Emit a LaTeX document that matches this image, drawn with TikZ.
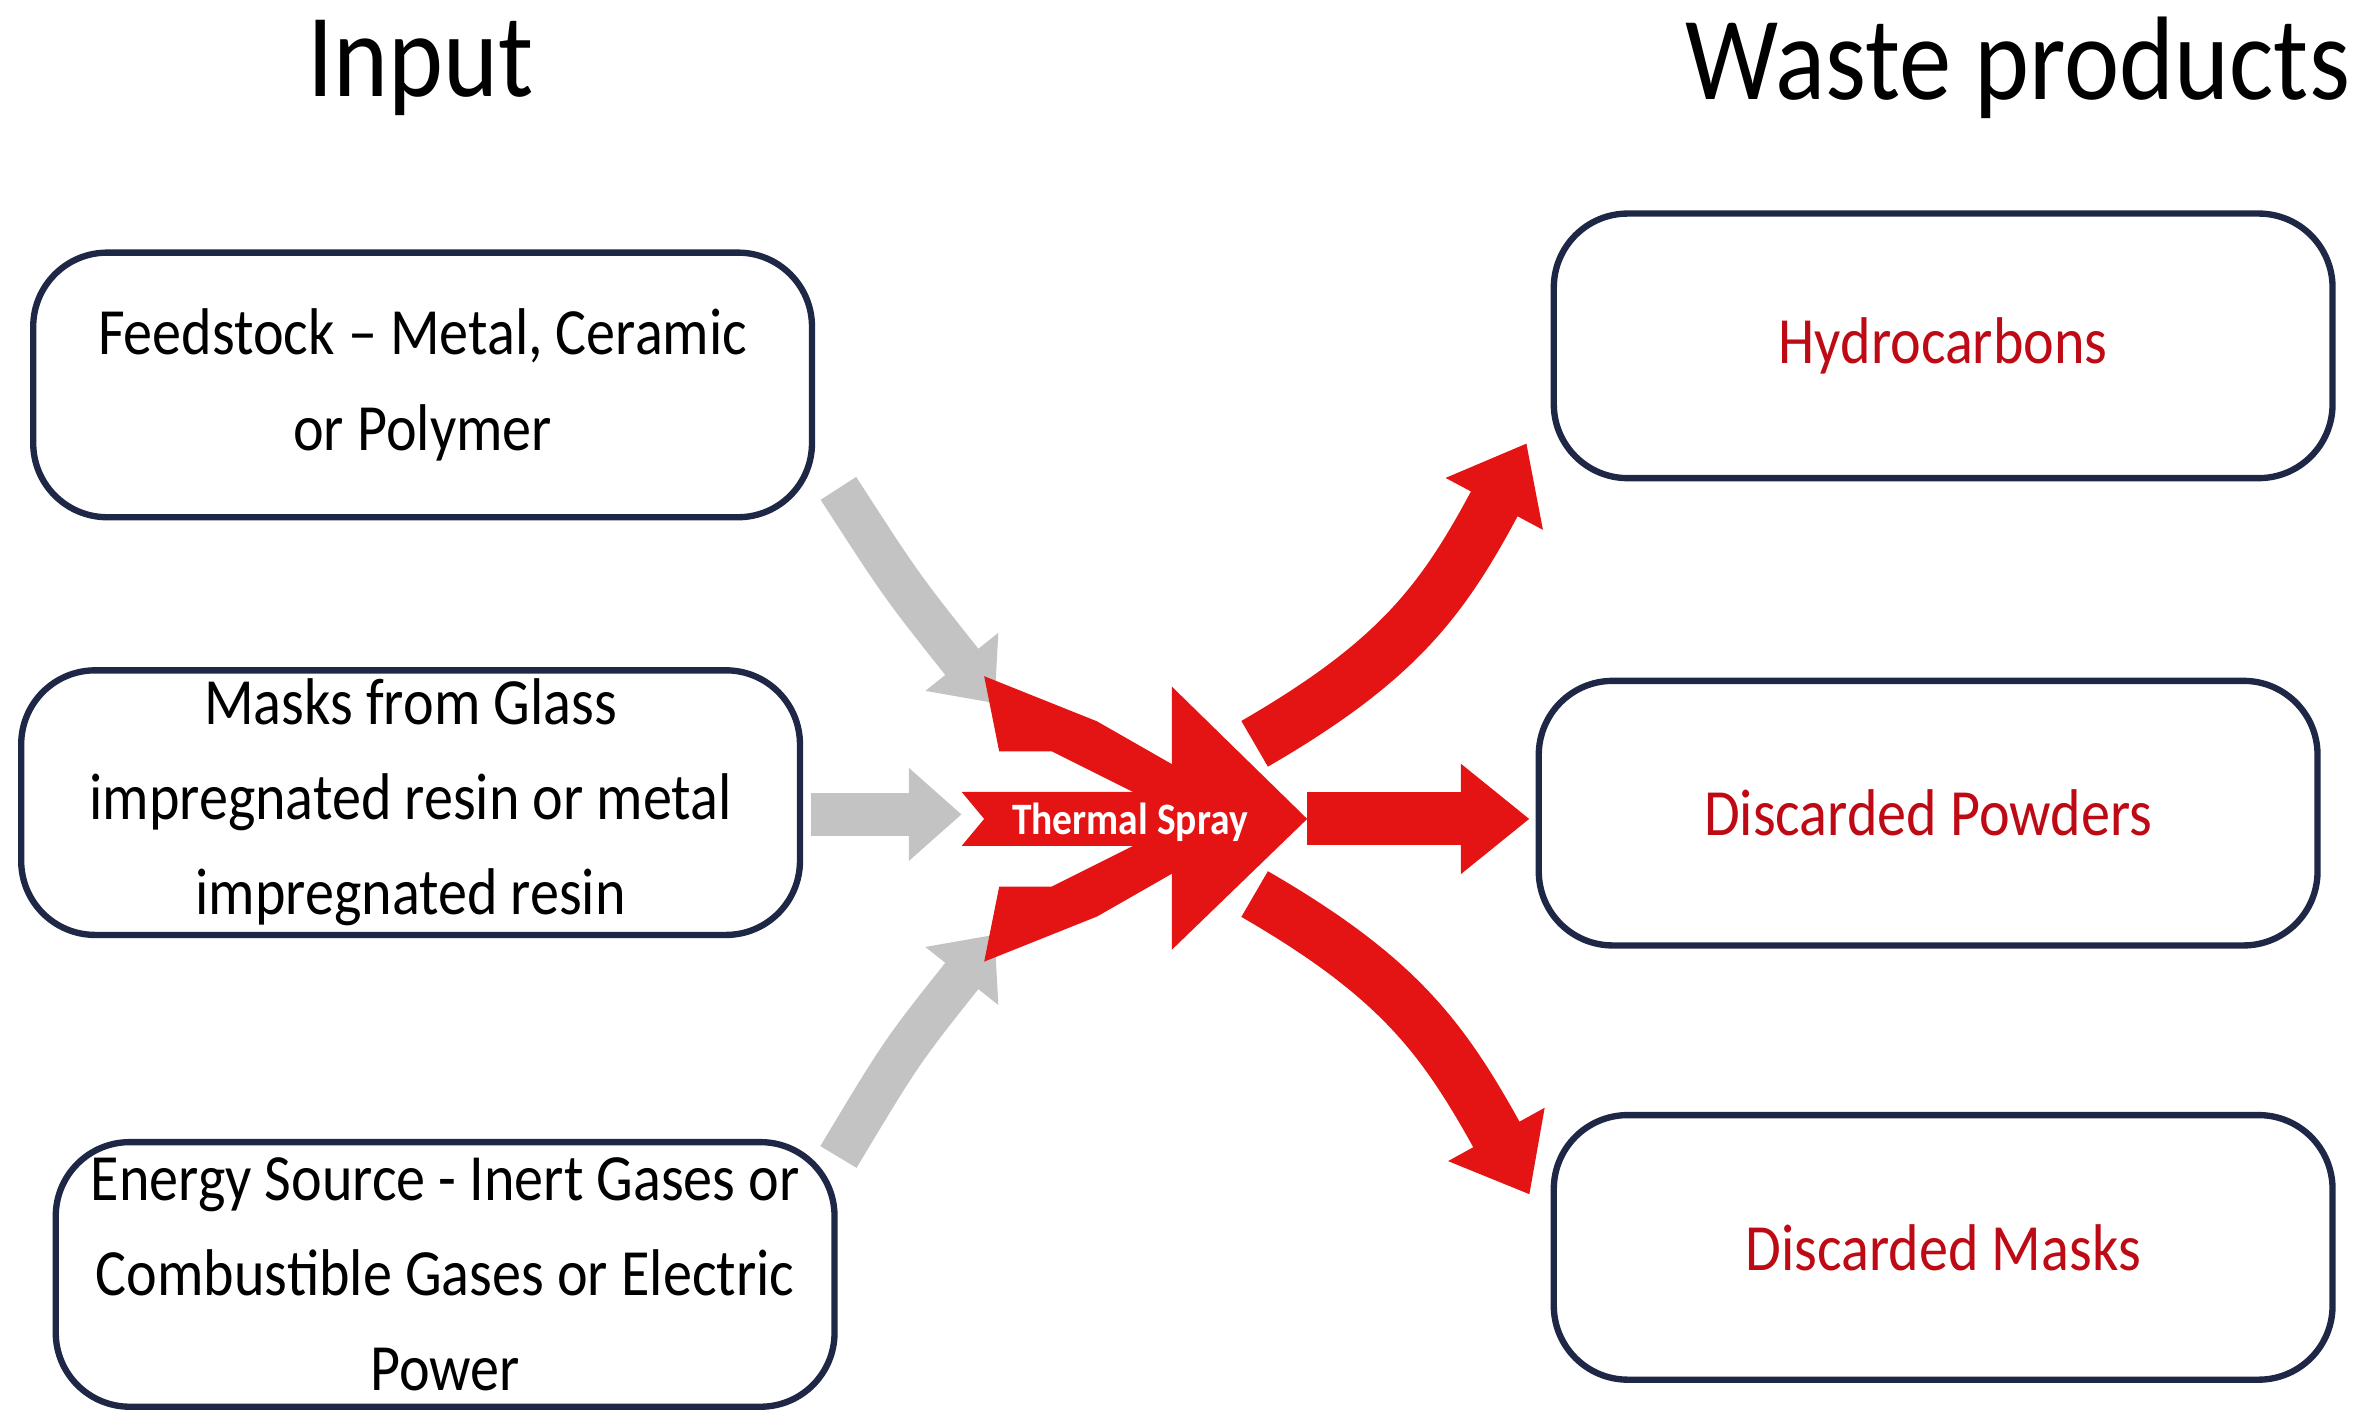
\documentclass[tikz,border=0pt]{standalone}
\usepackage{fontspec}
\setmainfont{Carlito}[FakeStretch=0.88]
\usetikzlibrary{arrows.meta}
\definecolor{bx}{RGB}{30,40,70}
\definecolor{rd}{RGB}{228,20,20}
\definecolor{rt}{RGB}{190,10,20}
\definecolor{gr}{RGB}{195,195,195}
\begin{document}
\begin{tikzpicture}[x=0.01cm,y=-0.01cm,
 box/.style={draw=bx,line width=1.2pt,rounded corners=14pt,minimum width=5.18cm,minimum height=1.76cm,align=center,font=\fontsize{12.5}{18}\selectfont,anchor=north west,inner sep=0pt},
 wbox/.style={box,text=rt},
 ttl/.style={font=\fontsize{22.5}{26}\selectfont},
 garr/.style={draw=gr,line width=8pt,-{Triangle[length=10pt,width=17pt]}},
 rarr/.style={draw=rd,line width=10pt,-{Triangle[length=13pt,width=20pt]}}]
\useasboundingbox (0,0) rectangle (1568,950);
\node[ttl] (tin) at (280,45) {Input};
\node[ttl] (tout) at (1343,45) {Waste products};
\node[box] (b1) at (20,166) {Feedstock – Metal, Ceramic\\or Polymer};
\node[box] (b2) at (12,444) {Masks from Glass\\impregnated resin or metal\\impregnated resin};
\node[box] (b3) at (35,758) {Energy Source - Inert Gases or\\Combustible Gases or Electric\\Power};
\node[wbox] (o1) at (1032,140) {Hydrocarbons};
\node[wbox] (o2) at (1022,451) {Discarded Powders};
\node[wbox] (o3) at (1032,740) {Discarded Masks};
% gray input arrows
\coordinate (g1s) at (558,325); \coordinate (g1e) at (662,468);
\coordinate (g2s) at (540,542); \coordinate (g2e) at (640,542);
\coordinate (g3s) at (558,770); \coordinate (g3e) at (662,622);
\draw[garr] (g1s) .. controls (600,390) .. (g1e);
\draw[garr] (g2s) -- (g2e);
\draw[garr] (g3s) .. controls (600,700) .. (g3e);
% central red arrow
\coordinate (c) at (870,545);
\fill[rd] (640,527) -- (780,527) -- (780,457) -- (c) -- (780,632) -- (780,563) -- (640,563) -- (655,545) -- cycle;
\fill[rd] (655,450) -- (730,480) -- (800,520) -- (790,545) -- (700,500) -- (665,500) -- cycle;
\fill[rd] (655,640) -- (730,610) -- (800,570) -- (790,545) -- (700,590) -- (665,590) -- cycle;
\node[text=white,font=\bfseries\fontsize{8.5}{10}\selectfont] (ts) at (752,547) {Thermal Spray};
% red output arrows
\coordinate (r1s) at (835,495); \coordinate (r1e) at (1016,295);
\coordinate (r2s) at (870,545); \coordinate (r2e) at (1018,545);
\coordinate (r3s) at (835,595); \coordinate (r3e) at (1018,795);
\draw[rarr] (r1s) .. controls (930,440) and (960,400) .. (r1e);
\draw[rarr] (r2s) -- (r2e);
\draw[rarr] (r3s) .. controls (930,650) and (960,690) .. (r3e);
\end{tikzpicture}
\end{document}
